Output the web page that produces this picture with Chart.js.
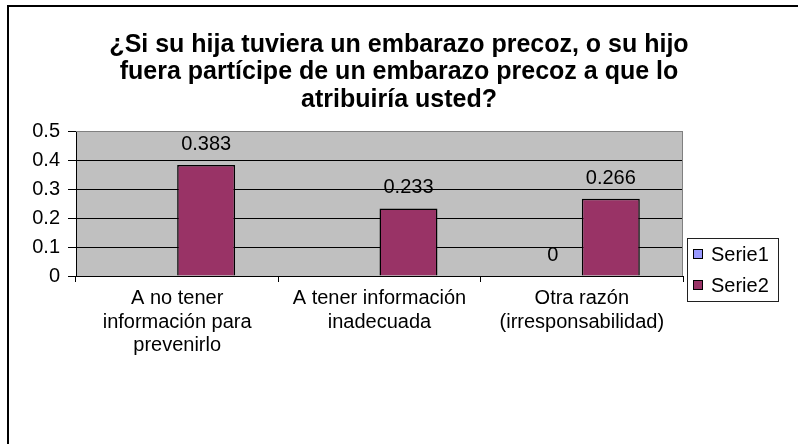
<!DOCTYPE html>
<html>
<head>
<meta charset="utf-8">
<script src="https://cdn.jsdelivr.net/npm/chart.js@4/dist/chart.umd.min.js"></script>
<style>
  html, body { margin: 0; padding: 0; background: #fff; }
  #wrap { position: relative; width: 798px; height: 444px; }
</style>
</head>
<body>
<div id="wrap"><canvas id="chart" width="798" height="444"></canvas></div>
<script>
// chart data
const titleLines = [
  '¿Si su hija tuviera un embarazo precoz, o su hijo',
  'fuera partícipe de un embarazo precoz a que lo',
  'atribuiría usted?'
];
const categories = [
  ['A no tener', 'información para', 'prevenirlo'],
  ['A tener información', 'inadecuada'],
  ['Otra razón', '(irresponsabilidad)']
];
const serie1 = [null, null, 0];
const serie2 = [0.383, 0.233, 0.266];
const yTicks = ['0', '0.1', '0.2', '0.3', '0.4', '0.5'];

const FONT = 'Liberation Sans, Arial, sans-serif';
Chart.defaults.font.family = FONT;
Chart.defaults.color = '#000';

// gray plot background, frame lines of the page
const plotBg = {
  id: 'plotBg',
  beforeDraw(chart) {
    const { ctx, chartArea: a } = chart;
    ctx.save();
    ctx.fillStyle = '#000';
    ctx.fillRect(7, 5, chart.width - 7, 2);   // top edge
    ctx.fillRect(7, 5, 2, chart.height - 5);  // left edge
    ctx.fillStyle = '#c0c0c0';
    ctx.fillRect(a.left, a.top, a.right - a.left, a.bottom - a.top);
    ctx.restore();
  },
  beforeDatasetsDraw(chart) {
    const { ctx, chartArea: a } = chart;
    ctx.save();
    ctx.strokeStyle = '#808080';
    ctx.lineWidth = 1;
    ctx.beginPath();
    ctx.moveTo(a.left, a.top + 0.5);
    ctx.lineTo(a.right - 0.5, a.top + 0.5);
    ctx.lineTo(a.right - 0.5, a.bottom);
    ctx.stroke();
    ctx.restore();
  }
};

// value labels above bars
const valueLabels = {
  id: 'valueLabels',
  afterDatasetsDraw(chart) {
    const { ctx } = chart;
    ctx.save();
    ctx.font = '20px ' + FONT;
    ctx.fillStyle = '#000';
    ctx.textAlign = 'center';
    ctx.textBaseline = 'alphabetic';
    chart.data.datasets.forEach((ds, i) => {
      chart.getDatasetMeta(i).data.forEach((bar, j) => {
        const v = ds.data[j];
        if (v === null || v === undefined) return;
        ctx.fillText(String(v), bar.x, bar.y - 15);
      });
    });
    ctx.restore();
  }
};

// boxed legend at lower right, like the original
const boxLegend = {
  id: 'boxLegend',
  afterDraw(chart) {
    const { ctx, chartArea: a } = chart;
    const x = a.right + 4, y = 238, w = 91, h = 63;
    ctx.save();
    ctx.fillStyle = '#fff';
    ctx.fillRect(x, y, w, h);
    ctx.strokeStyle = '#202020';
    ctx.lineWidth = 1;
    ctx.strokeRect(x + 0.5, y + 0.5, w, h);
    ctx.font = '20px ' + FONT;
    ctx.textBaseline = 'middle';
    chart.data.datasets.forEach((ds, i) => {
      const cy = y + 16 + i * 31;
      ctx.fillStyle = ds.backgroundColor;
      ctx.fillRect(x + 6, cy - 5, 9, 9);
      ctx.strokeStyle = '#000';
      ctx.strokeRect(x + 6.5, cy - 4.5, 9, 9);
      ctx.fillStyle = '#000';
      ctx.fillText(ds.label, x + 24, cy + 1);
    });
    ctx.restore();
  }
};

new Chart(document.getElementById('chart'), {
  type: 'bar',
  data: {
    labels: categories,
    datasets: [
      {
        label: 'Serie1',
        data: serie1,
        backgroundColor: '#9999ff',
        borderColor: '#000',
        borderWidth: 1.5,
        categoryPercentage: 0.573,
        barPercentage: 1.0,
      },
      {
        label: 'Serie2',
        data: serie2,
        backgroundColor: '#993366',
        borderColor: '#000',
        borderWidth: 1.5,
        categoryPercentage: 0.573,
        barPercentage: 1.0,
      },
    ],
  },
  options: {
    responsive: false,
    animation: false,
    layout: { padding: { left: 0, right: 0, top: 0, bottom: 68 } },
    scales: {
      x: {
        afterFit(scale) { scale.height = 100; },
        grid: {
          drawOnChartArea: false,
          drawTicks: true,
          tickLength: 6,
          color: '#000',
        },
        border: { display: true, color: '#000', width: 1 },
        ticks: {
          padding: 5,
          font: { size: 20, lineHeight: 1.175 },
          color: '#000',
          maxRotation: 0,
          autoSkip: false,
        },
      },
      y: {
        min: 0,
        max: 0.5,
        afterFit(scale) { scale.width = 76; },
        grid: {
          color: (c) => (c.tick && c.tick.value === 0.5 ? '#808080' : '#000'),
          tickColor: '#000',
          tickLength: 8,
          lineWidth: 1,
        },
        border: { display: true, color: '#000', width: 1 },
        ticks: {
          stepSize: 0.1,
          padding: 8,
          font: { size: 20 },
          color: '#000',
          callback: (v, i) => yTicks[i],
        },
      },
      // empty right-hand strip that holds the legend area
      side: {
        type: 'linear',
        position: 'right',
        afterFit(scale) { scale.width = 115; },
        grid: { display: false },
        border: { display: false },
        ticks: { display: false },
      },
    },
    plugins: {
      legend: { display: false },
      tooltip: { enabled: false },
      title: {
        display: true,
        text: titleLines,
        color: '#000',
        font: { size: 25, weight: 'bold', lineHeight: 1.1 },
        padding: { top: 31, bottom: 17.5 },
      },
    },
  },
  plugins: [plotBg, valueLabels, boxLegend],
});
</script>
</body>
</html>
